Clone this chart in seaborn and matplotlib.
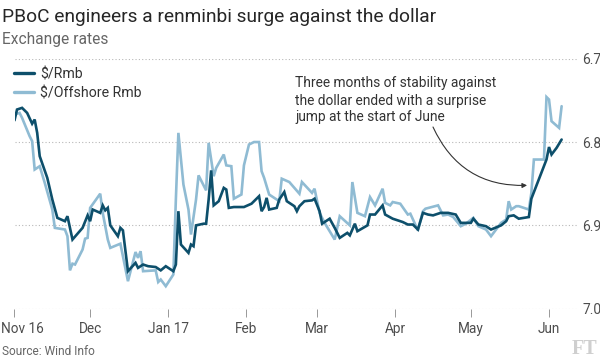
import matplotlib
matplotlib.use("Agg")
import matplotlib.pyplot as plt
import seaborn as sns
import pandas as pd
from matplotlib.transforms import ScaledTranslation

# ---------------- data ----------------
rmb_dates = ["2016-11-01","2016-11-02","2016-11-04","2016-11-06","2016-11-08","2016-11-09","2016-11-10","2016-11-11",
             "2016-11-14","2016-11-16","2016-11-18","2016-11-21","2016-11-22","2016-11-24","2016-11-28","2016-11-30",
             "2016-12-01","2016-12-02","2016-12-05","2016-12-06","2016-12-07","2016-12-08","2016-12-09","2016-12-12",
             "2016-12-13","2016-12-14","2016-12-16","2016-12-19","2016-12-20","2016-12-22","2016-12-24","2016-12-27",
             "2016-12-29","2016-12-31","2017-01-03","2017-01-04","2017-01-05","2017-01-06","2017-01-09","2017-01-10",
             "2017-01-11","2017-01-12","2017-01-15","2017-01-16","2017-01-17","2017-01-18","2017-01-19","2017-01-21",
             "2017-01-23","2017-01-24","2017-01-25","2017-01-27","2017-01-31","2017-02-03","2017-02-06","2017-02-07",
             "2017-02-08","2017-02-09","2017-02-10","2017-02-13","2017-02-14","2017-02-16","2017-02-17","2017-02-20",
             "2017-02-21","2017-02-22","2017-02-24","2017-02-27","2017-02-28","2017-03-02","2017-03-03","2017-03-06",
             "2017-03-08","2017-03-10","2017-03-13","2017-03-14","2017-03-16","2017-03-17","2017-03-21","2017-03-22",
             "2017-03-24","2017-03-27","2017-03-28","2017-03-31","2017-04-04","2017-04-06","2017-04-08","2017-04-10",
             "2017-04-12","2017-04-14","2017-04-16","2017-04-19","2017-04-22","2017-04-25","2017-04-27","2017-05-01",
             "2017-05-02","2017-05-04","2017-05-07","2017-05-09","2017-05-13","2017-05-15","2017-05-16","2017-05-18",
             "2017-05-20","2017-05-22","2017-05-24","2017-05-25","2017-05-31","2017-06-01","2017-06-02","2017-06-04",
             "2017-06-06"]
rmb_values = [6.774,6.761,6.759,6.765,6.778,6.773,6.789,6.817,6.843,6.869,6.891,6.895,6.889,6.917,6.903,6.888,
              6.895,6.881,6.885,6.876,6.882,6.879,6.900,6.913,6.903,6.906,6.955,6.945,6.951,6.947,6.949,6.950,6.954,6.949,
              6.955,6.947,6.883,6.923,6.933,6.923,6.925,6.900,6.898,6.898,6.869,6.834,6.876,6.871,6.855,6.857,6.879,6.878,6.878,
              6.874,6.865,6.883,6.878,6.867,6.881,6.879,6.869,6.860,6.871,6.877,6.883,6.877,6.871,6.870,6.868,
              6.883,6.898,6.892,6.903,6.915,6.909,6.912,6.898,6.907,6.900,6.887,6.887,6.876,6.887,6.892,
              6.896,6.899,6.899,6.905,6.885,6.887,6.888,6.885,6.885,6.887,6.897,
              6.897,6.892,6.899,6.901,6.905,6.900,6.895,6.889,6.888,6.892,6.891,6.890,6.868,6.821,
              6.806,6.815,6.807,6.797]

cnh_dates = ["2016-11-01","2016-11-03","2016-11-04","2016-11-07","2016-11-08","2016-11-09","2016-11-11","2016-11-13",
             "2016-11-16","2016-11-17","2016-11-21","2016-11-22","2016-11-23","2016-11-24","2016-11-25","2016-11-28",
             "2016-11-29","2016-11-30","2016-12-01","2016-12-05","2016-12-06","2016-12-08","2016-12-09","2016-12-13",
             "2016-12-16","2016-12-19","2016-12-20","2016-12-21","2016-12-22","2016-12-27","2016-12-28","2016-12-29",
             "2016-12-31","2017-01-03","2017-01-04","2017-01-05","2017-01-07","2017-01-09","2017-01-10","2017-01-12",
             "2017-01-13","2017-01-15","2017-01-16","2017-01-17","2017-01-19","2017-01-20","2017-01-23","2017-01-24",
             "2017-01-26","2017-01-27","2017-01-30","2017-01-31","2017-02-02","2017-02-04","2017-02-06","2017-02-07",
             "2017-02-08","2017-02-10","2017-02-12","2017-02-14","2017-02-15","2017-02-18","2017-02-20","2017-02-22",
             "2017-02-23","2017-02-27","2017-02-28","2017-03-02","2017-03-04","2017-03-08","2017-03-10","2017-03-14",
             "2017-03-15","2017-03-17","2017-03-20","2017-03-22","2017-03-24","2017-03-27","2017-03-28","2017-03-30",
             "2017-03-31","2017-04-03","2017-04-06","2017-04-07","2017-04-10","2017-04-12","2017-04-13","2017-04-18",
             "2017-04-20","2017-04-22","2017-04-24","2017-04-27","2017-04-29","2017-05-02","2017-05-04","2017-05-07",
             "2017-05-09","2017-05-13","2017-05-15","2017-05-16","2017-05-17","2017-05-19","2017-05-20","2017-05-24",
             "2017-05-25","2017-05-26","2017-05-30","2017-05-31","2017-06-01","2017-06-02","2017-06-05","2017-06-06"]
cnh_values = [6.767,6.765,6.771,6.793,6.799,6.833,6.829,6.849,6.881,6.903,6.905,6.913,6.954,6.946,6.947,6.929,
              6.916,6.915,6.879,6.862,6.885,6.917,6.927,6.922,6.967,6.932,6.939,6.931,6.955,6.954,6.968,6.965,
              6.973,6.959,6.869,6.789,6.851,6.881,6.911,6.869,6.840,6.852,6.858,6.801,6.841,6.831,6.815,6.828,
              6.829,6.868,6.863,6.828,6.803,6.800,6.800,6.835,6.843,6.863,6.867,6.871,6.844,6.848,6.855,6.862,
              6.848,6.861,6.856,6.885,6.897,6.917,6.889,6.900,6.848,6.885,6.889,6.866,6.876,6.856,6.873,6.876,
              6.872,6.874,6.887,6.886,6.906,6.883,6.880,6.876,6.888,6.887,6.890,6.901,6.898,6.891,6.901,6.905,
              6.913,6.897,6.893,6.871,6.881,6.877,6.877,6.881,6.861,6.821,6.821,6.746,6.749,6.775,6.783,6.757]

series_labels = ["$/Rmb", "$/Offshore Rmb"]
month_ticks = ["2016-11-01","2016-12-01","2017-01-01","2017-02-01","2017-03-01","2017-04-01","2017-05-01","2017-06-01"]
month_labels = ["Nov 16","Dec","Jan 17","Feb","Mar","Apr","May","Jun"]
y_ticks = [6.7, 6.8, 6.9, 7.0]
y_labels = ["6.7", "6.8", "6.9", "7.0"]

title = "PBoC engineers a renminbi surge against the dollar"
subtitle = "Exchange rates"
note_lines = ["Three months of stability against", "the dollar ended with a surprise", "jump at the start of June"]
source = "Source: Wind Info"

# ---------------- style ----------------
DARK = "#0d4f6b"
LIGHT = "#8fbbd3"
TXT = "#333333"
GREY = "#666666"

sns.set_theme(style="white")
plt.rcParams["font.family"] = ["Roboto", "DejaVu Sans"]

W, H = 600, 360
fig = plt.figure(figsize=(6, 3.6), dpi=100, facecolor="white")
ax_l, ax_r, ax_top, ax_bot = 14.5, 577, 58.7, 308.7
ax = fig.add_axes([ax_l / W, 1 - ax_bot / H, (ax_r - ax_l) / W, (ax_bot - ax_top) / H])
ax.set_facecolor("white")

df_rmb = pd.DataFrame({"date": pd.to_datetime(rmb_dates), "rate": rmb_values})
df_cnh = pd.DataFrame({"date": pd.to_datetime(cnh_dates), "rate": cnh_values})

sns.lineplot(data=df_cnh, x="date", y="rate", ax=ax, color=LIGHT, linewidth=1.9,
             label=series_labels[1], solid_joinstyle="miter")
sns.lineplot(data=df_rmb, x="date", y="rate", ax=ax, color=DARK, linewidth=1.9,
             label=series_labels[0], solid_joinstyle="miter")

start = pd.Timestamp("2016-11-01")
ax.set_xlim(start, start + pd.Timedelta(days=223.1))
ax.set_ylim(7.0, 6.7)

for s in ax.spines.values():
    s.set_visible(False)
ax.set_xlabel("")
ax.set_ylabel("")

ax.set_yticks(y_ticks)
ax.set_yticklabels(y_labels)
ax.yaxis.tick_right()
ax.tick_params(axis="y", length=0, pad=3.8, labelsize=10, labelcolor="#4d4d4d")
ax.grid(axis="y", color="#b8b8b8", linestyle=(0, (1, 2)), linewidth=0.8)
ax.grid(axis="x", visible=False)

ax.set_xticks(pd.to_datetime(month_ticks))
ax.set_xticklabels(month_labels)
ax.tick_params(axis="x", direction="out", length=6, width=0.7, color="#999999",
               pad=3.5, labelsize=9.8, labelcolor="#4d4d4d", bottom=True)
first = ax.get_xticklabels()[0]
first.set_transform(first.get_transform() + ScaledTranslation(7.5 / 100, 0, fig.dpi_scale_trans))

# legend
handles, labels = ax.get_legend_handles_labels()
order = [labels.index(series_labels[0]), labels.index(series_labels[1])]
leg = ax.legend([handles[i] for i in order], [labels[i] for i in order],
                loc="upper left", bbox_to_anchor=(14 / W, 1 - 67 / H), bbox_transform=fig.transFigure,
                frameon=False, fontsize=10.2, handlelength=1.4, handletextpad=0.45,
                borderpad=0, borderaxespad=0, labelspacing=0.38)
for t in leg.get_texts():
    t.set_color(TXT)
for l in leg.get_lines():
    l.set_linewidth(2.4)

# texts
t_title = fig.text(2 / W, 1 - 21.7 / H, title, ha="left", va="baseline", fontsize=14, color="#262626")
t_sub = fig.text(2 / W, 1 - 44 / H, subtitle, ha="left", va="baseline", fontsize=11, color=GREY)
note_y = [87.3, 104.5, 121.5]
t_notes = [fig.text(295 / W, 1 - y / H, s, ha="left", va="baseline", fontsize=10, color=TXT)
           for s, y in zip(note_lines, note_y)]
t_src = fig.text(2 / W, 1 - 355 / H, source, ha="left", va="baseline", fontsize=8.5, color=GREY)
fig.text(597 / W, 1 - 354 / H, "FT", ha="right", va="baseline", fontsize=14.5, fontweight="bold",
         family=["Liberation Serif", "DejaVu Serif"], color="#cfcfcf")

# fit text widths to the reference
fig.canvas.draw()
r = fig.canvas.get_renderer()
def fit(t, target):
    w = t.get_window_extent(r).width
    t.set_fontsize(t.get_fontsize() * target / w)
fit(t_title, 437)
fit(t_sub, 106)
fit(t_src, 92)
fit(t_notes[0], 201)
for t in t_notes[1:]:
    t.set_fontsize(t_notes[0].get_fontsize())

# annotation arrow
tip_date = start + pd.Timedelta(days=203.3)
ax.annotate("", xy=(tip_date, 6.852), xycoords="data", xytext=(433, H - 127), textcoords="figure pixels",
            arrowprops=dict(arrowstyle="-|>", connectionstyle="arc3,rad=0.33", color="#333333",
                            lw=0.8, shrinkA=0, shrinkB=0, mutation_scale=7))

fig.savefig("out.png", dpi=100, facecolor="white")
